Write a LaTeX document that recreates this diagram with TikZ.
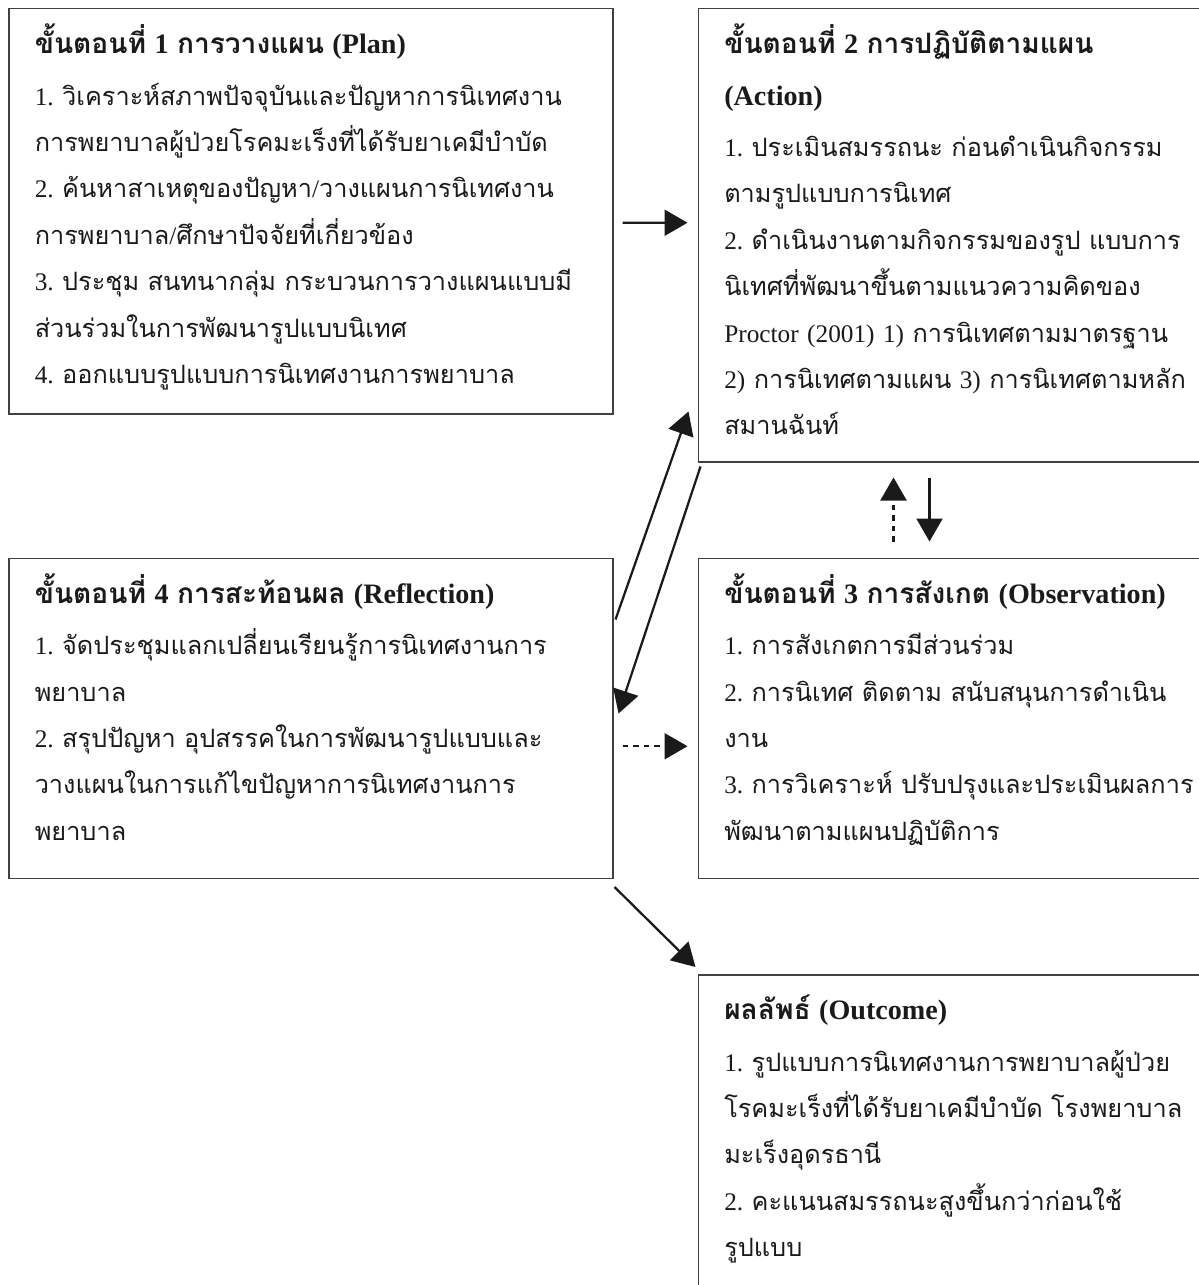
\documentclass[tikz,border=0pt]{standalone}
\usepackage{fontspec}
\setmainfont{Liberation Serif}
\newfontfamily\thaifont[Script=Thai]{Loma}
\usetikzlibrary{arrows.meta,positioning}
\definecolor{ink}{HTML}{1A1A1A}
\definecolor{frame}{HTML}{404040}
\newcommand{\head}[1]{{\fontsize{16pt}{26.4pt}\selectfont\bfseries #1}\\[1mm]}

\newXeTeXintercharclass\thaicls
\makeatletter
\@tempcnta="0E00
\loop
  \XeTeXcharclass\@tempcnta=\thaicls
  \advance\@tempcnta by 1
\ifnum\@tempcnta<"0E80 \repeat
\makeatother
\XeTeXinterchartoks 0 \thaicls = {\begingroup\thaifont}
\XeTeXinterchartoks 4095 \thaicls = {\begingroup\thaifont}
\XeTeXinterchartoks \thaicls 0 = {\endgroup}
\XeTeXinterchartoks \thaicls 4095 = {\endgroup}
\XeTeXinterchartokenstate=1

\begin{document}
\begin{tikzpicture}[
  node distance=16.8mm,
  box/.style={draw=frame, line width=0.3mm, anchor=north west, align=left,
              inner xsep=5.2mm, inner ysep=0pt, text height=9mm, text=ink,
              font=\fontsize{14.4pt}{26.4pt}\selectfont\frenchspacing},
  wide/.style={box, text width=110.4mm},
  narrow/.style={box, text width=100mm},
  arr/.style={-{Triangle[length=4.6mm, width=5.2mm]}, line width=0.45mm, draw=ink},
  dasharr/.style={arr, dash pattern=on 1.1mm off 1mm}]
  \useasboundingbox (0,0) rectangle (239.6mm,-257mm);
  \node[wide, text depth=72mm] (plan) at (1.6mm,-1.6mm)
    {\head{ขั้นตอนที่ 1 การวางแผน (Plan)}
     1. วิเคราะห์สภาพปัจจุบันและปัญหาการนิเทศงาน\\
     การพยาบาลผู้ป่วยโรคมะเร็งที่ได้รับยาเคมีบำบัด\\
     2. ค้นหาสาเหตุของปัญหา/วางแผนการนิเทศงาน\\
     การพยาบาล/ศึกษาปัจจัยที่เกี่ยวข้อง\\
     3. ประชุม สนทนากลุ่ม กระบวนการวางแผนแบบมี\\
     ส่วนร่วมในการพัฒนารูปแบบนิเทศ\\
     4. ออกแบบรูปแบบการนิเทศงานการพยาบาล};
  \node[narrow, text depth=81.6mm, right=of plan.north east, anchor=north west] (action)
    {\head{ขั้นตอนที่ 2 การปฏิบัติตามแผน}
     \head{(Action)}
     1. ประเมินสมรรถนะ ก่อนดำเนินกิจกรรม\\
     ตามรูปแบบการนิเทศ\\
     2. ดำเนินงานตามกิจกรรมของรูป แบบการ\\
     นิเทศที่พัฒนาขึ้นตามแนวความคิดของ\\
     Proctor (2001) 1) การนิเทศตามมาตรฐาน\\
     2) การนิเทศตามแผน 3) การนิเทศตามหลัก\\
     สมานฉันท์};
  \node[wide, text depth=55mm, below=28.6mm of plan.south west, anchor=north west] (refl)
    {\head{ขั้นตอนที่ 4 การสะท้อนผล (Reflection)}
     1. จัดประชุมแลกเปลี่ยนเรียนรู้การนิเทศงานการ\\
     พยาบาล\\
     2. สรุปปัญหา อุปสรรคในการพัฒนารูปแบบและ\\
     วางแผนในการแก้ไขปัญหาการนิเทศงานการ\\
     พยาบาล};
  \node[narrow, text depth=55mm, below=19mm of action.south west, anchor=north west] (obs)
    {\head{ขั้นตอนที่ 3 การสังเกต (Observation)}
     1. การสังเกตการมีส่วนร่วม\\
     2. การนิเทศ ติดตาม สนับสนุนการดำเนิน\\
     งาน\\
     3. การวิเคราะห์ ปรับปรุงและประเมินผลการ\\
     พัฒนาตามแผนปฏิบัติการ};
  \node[narrow, text depth=57mm, below=19mm of obs.south west, anchor=north west] (outcome)
    {\head{ผลลัพธ์ (Outcome)}
     1. รูปแบบการนิเทศงานการพยาบาลผู้ป่วย\\
     โรคมะเร็งที่ได้รับยาเคมีบำบัด โรงพยาบาล\\
     มะเร็งอุดรธานี\\
     2. คะแนนสมรรถนะสูงขึ้นกว่าก่อนใช้\\
     รูปแบบ};
  \draw[arr] ([xshift=1.8mm,yshift=-2.3mm]plan.east) -- ([xshift=-2mm,yshift=2.5mm]action.west);
  \draw[arr] ([xshift=0.4mm,yshift=-12.4mm]refl.north east) -- ([xshift=-1.8mm,yshift=10.2mm]action.south west);
  \draw[arr] ([xshift=0.6mm,yshift=-0.8mm]action.south west) -- ([xshift=1mm,yshift=-31.2mm]refl.north east);
  \draw[dasharr] ([xshift=39.2mm,yshift=3.2mm]obs.north west) -- ([xshift=39.2mm,yshift=-3mm]action.south west);
  \draw[arr] ([xshift=46.4mm,yshift=-3mm]action.south west) -- ([xshift=46.4mm,yshift=3.2mm]obs.north west);
  \draw[dasharr] ([xshift=1.8mm,yshift=-5.6mm]refl.east) -- ([xshift=-2mm,yshift=-5.6mm]obs.west);
  \draw[arr] ([xshift=0.2mm,yshift=-1.6mm]refl.south east) -- ([xshift=-0.4mm,yshift=1.4mm]outcome.north west);
\end{tikzpicture}
\end{document}
